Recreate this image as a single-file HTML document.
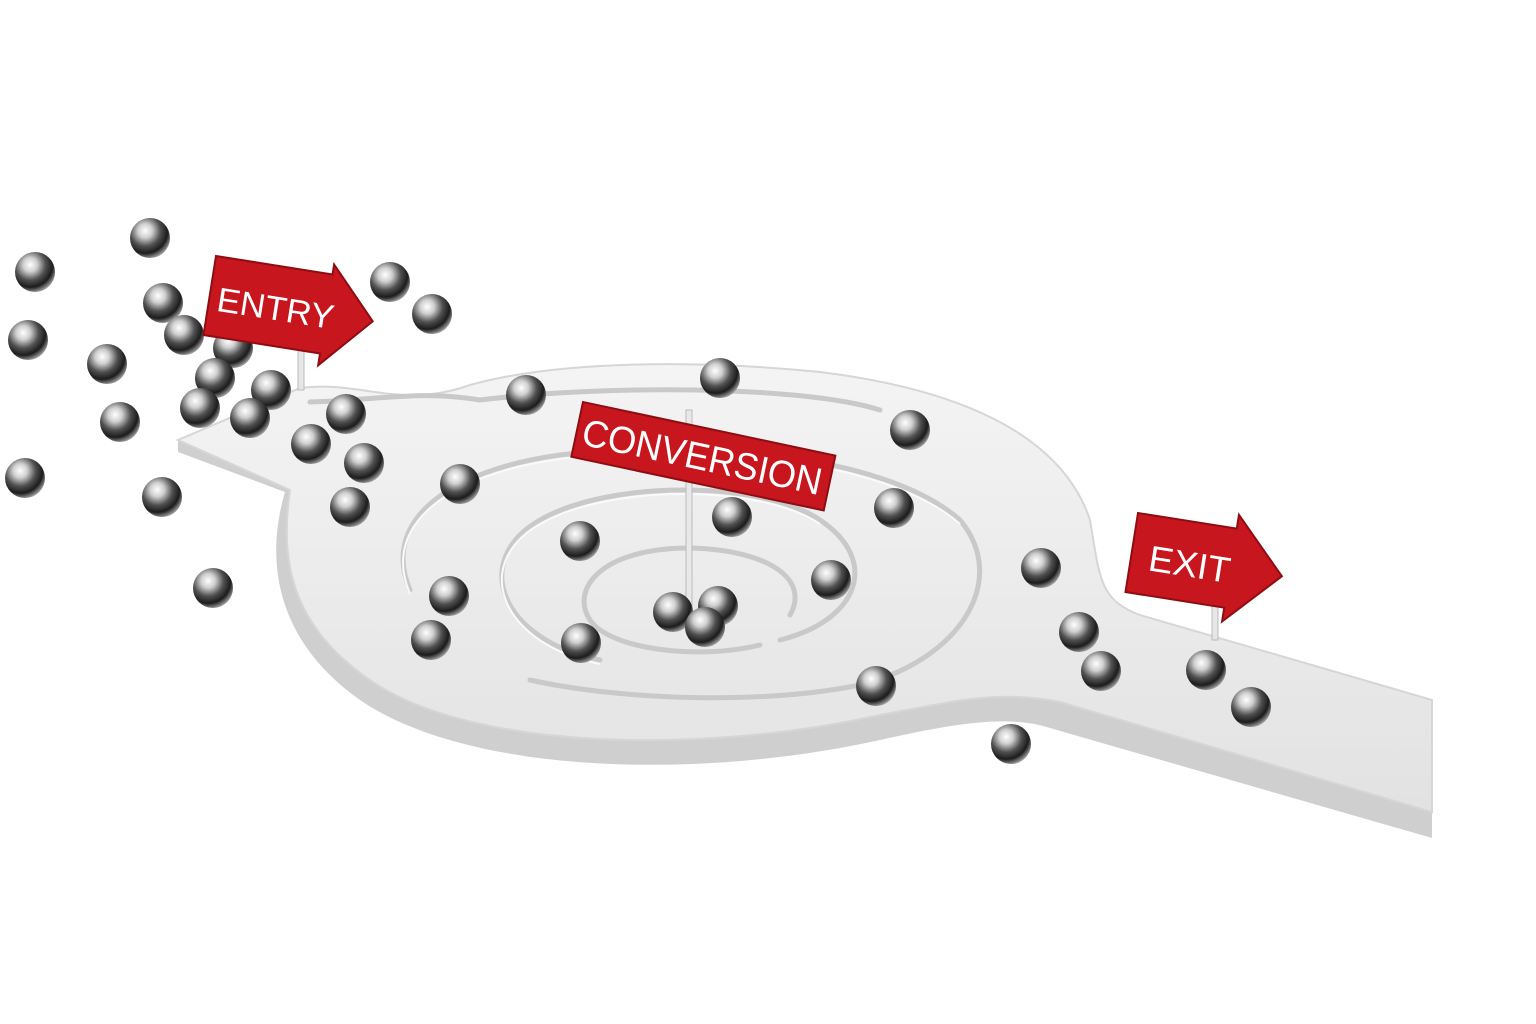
<!DOCTYPE html>
<html><head><meta charset="utf-8"><style>
html,body{margin:0;padding:0;background:#fff;}
svg{display:block}
text{font-family:"Liberation Sans",sans-serif;fill:#fff}
</style></head><body>
<svg width="1536" height="1024" viewBox="0 0 1536 1024" xmlns="http://www.w3.org/2000/svg">
<defs>
<radialGradient id="b" cx="0.38" cy="0.32" r="0.7">
<stop offset="0" stop-color="#ffffff"/>
<stop offset="0.25" stop-color="#d0d0d0"/>
<stop offset="0.55" stop-color="#505050"/>
<stop offset="0.8" stop-color="#1c1c1c"/>
<stop offset="1" stop-color="#9a9a9a"/>
</radialGradient>
<linearGradient id="top" x1="0" y1="0" x2="0" y2="1">
<stop offset="0" stop-color="#f4f4f4"/><stop offset="1" stop-color="#e2e2e2"/>
</linearGradient>
<g id="ball"><circle r="20" fill="url(#b)"/></g>
</defs>
<path d="M178 452 L285 492 C265 560 275 640 360 700 C470 775 700 780 880 740 C960 722 1010 715 1050 728 L1432 838 L1432 812 L1060 702 C1000 690 960 700 880 715 C700 755 470 750 370 680 C290 625 280 560 290 490 L178 440 Z" fill="#cfcfcf"/>
<path d="M178 440 L300 388 C360 380 400 410 470 385 C560 360 700 360 820 372 C950 388 1060 430 1090 520 C1100 580 1100 600 1140 615 L1432 700 L1432 812 L1060 702 C1000 690 960 700 880 715 C700 755 470 750 370 680 C290 625 280 560 290 490 Z" fill="url(#top)" stroke="#d6d6d6" stroke-width="2"/>
<g fill="none" stroke="#c9c9c9" stroke-width="5" stroke-linecap="round">
<path d="M310 402 C380 400 420 390 480 400 C600 385 800 385 880 410"/>
<path d="M410 590 C380 520 450 470 560 455 C680 440 880 450 960 520 C1010 580 960 660 860 685 C760 705 620 700 530 680"/>
<path d="M600 660 C500 640 470 560 540 520 C610 480 760 480 820 520 C880 560 860 620 780 640"/>
<path d="M790 615 C810 580 770 550 690 548 C600 548 570 590 590 620 C610 650 700 660 760 645"/>
</g>
<g fill="none" stroke="#fafafa" stroke-width="2">
<path d="M410 594 C380 524 450 474 560 459 C680 444 880 454 960 524"/>
<path d="M600 664 C500 644 470 564 540 524 C610 484 760 484 820 524"/>
</g>
<rect x="298" y="340" width="6" height="50" fill="#e6e6e6" stroke="#bbb"/>
<rect x="686" y="410" width="6" height="200" fill="#e8e8e8" stroke="#bbb"/>
<rect x="1212" y="590" width="6" height="50" fill="#e6e6e6" stroke="#bbb"/>
<g>
<use href="#ball" x="150" y="238"/><use href="#ball" x="35" y="272"/><use href="#ball" x="163" y="303"/>
<use href="#ball" x="390" y="282"/><use href="#ball" x="432" y="314"/><use href="#ball" x="28" y="340"/>
<use href="#ball" x="184" y="335"/><use href="#ball" x="233" y="348"/><use href="#ball" x="107" y="364"/>
<use href="#ball" x="215" y="378"/><use href="#ball" x="271" y="390"/><use href="#ball" x="200" y="408"/>
<use href="#ball" x="250" y="418"/><use href="#ball" x="120" y="422"/><use href="#ball" x="346" y="414"/>
<use href="#ball" x="311" y="444"/><use href="#ball" x="364" y="463"/><use href="#ball" x="25" y="478"/>
<use href="#ball" x="162" y="497"/><use href="#ball" x="350" y="507"/><use href="#ball" x="460" y="484"/>
<use href="#ball" x="213" y="588"/><use href="#ball" x="449" y="596"/><use href="#ball" x="431" y="640"/>
<use href="#ball" x="526" y="395"/><use href="#ball" x="720" y="378"/><use href="#ball" x="910" y="430"/>
<use href="#ball" x="894" y="508"/><use href="#ball" x="732" y="517"/><use href="#ball" x="580" y="541"/>
<use href="#ball" x="831" y="580"/><use href="#ball" x="581" y="643"/><use href="#ball" x="673" y="612"/>
<use href="#ball" x="718" y="606"/><use href="#ball" x="705" y="627"/><use href="#ball" x="876" y="686"/>
<use href="#ball" x="1041" y="568"/><use href="#ball" x="1079" y="632"/><use href="#ball" x="1101" y="671"/>
<use href="#ball" x="1206" y="670"/><use href="#ball" x="1251" y="707"/><use href="#ball" x="1011" y="744"/>
</g>
<g transform="translate(216,256) rotate(9)">
<path d="M0 0 L118 0 L118 -10 L165 40 L118 92 L118 80 L0 80 Z" fill="#c8161e" stroke="#8e0d12" stroke-width="2"/>
<text x="8" y="54" font-size="34" textLength="118" lengthAdjust="spacingAndGlyphs">ENTRY</text>
</g>
<g transform="translate(583,402) rotate(12)">
<rect width="258" height="56" fill="#c8161e" stroke="#8e0d12" stroke-width="2"/>
<text x="6" y="42" font-size="38" textLength="244" lengthAdjust="spacingAndGlyphs">CONVERSION</text>
</g>
<g transform="translate(1138,513) rotate(9)">
<path d="M0 0 L100 0 L100 -14 L152 40 L100 94 L100 80 L0 80 Z" fill="#c8161e" stroke="#8e0d12" stroke-width="2"/>
<text x="18" y="55" font-size="36" textLength="82" lengthAdjust="spacingAndGlyphs">EXIT</text>
</g>
</svg>
</body></html>
